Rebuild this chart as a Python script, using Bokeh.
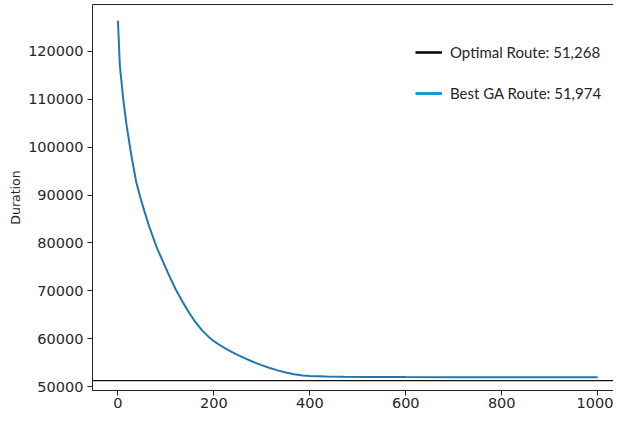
from bokeh.plotting import figure
from bokeh.models import (Span, Legend, LegendItem, LinearAxis, FixedTicker,
                          ColumnDataSource, Range1d)
from bokeh.embed import file_html
from bokeh.resources import INLINE

# ---- data ----
generation = [0, 4, 11, 18, 28, 38, 47, 55, 65, 80, 93, 105, 120, 135, 148,
              160, 175, 190, 200, 215, 230, 245, 264, 280, 298, 315, 333, 350,
              367, 385, 400, 435, 470, 520, 600, 700, 800, 900, 1000]
best_duration = [126400, 117100, 110100, 104600, 98300, 92800, 89400, 86700,
                 83500, 79300, 76300, 73600, 70400, 67700, 65500, 63700, 61800,
                 60300, 59500, 58500, 57650, 56850, 55950, 55250, 54550, 53950,
                 53400, 52950, 52600, 52350, 52220, 52100, 52050, 52020, 52000,
                 51990, 51980, 51975, 51974]
optimal_duration = 51268
legend_labels = ["Optimal Route: 51,268", "Best GA Route: 51,974"]
x_ticks = [0, 200, 400, 600, 800, 1000]
y_ticks = [50000, 60000, 70000, 80000, 90000, 100000, 110000, 120000]

X_MIN, X_MAX = -53, 1033
Y_MIN, Y_MAX = 49200, 129800
NAN = float("nan")

p = figure(width=613, height=410, output_backend="svg", toolbar_location=None,
           x_range=Range1d(X_MIN, X_MAX), y_range=Range1d(Y_MIN, Y_MAX),
           min_border_left=92, min_border_right=0, min_border_top=4,
           min_border_bottom=10)
p.grid.visible = False
p.outline_line_color = None
p.background_fill_color = "white"

src = ColumnDataSource(dict(x=generation, y=best_duration))
p.line("x", "y", source=src, line_color="#1f77b4", line_width=2)

p.add_layout(Span(location=optimal_duration, dimension="width",
                  line_color="#111111", line_width=1.2))

tick_font = "DejaVu Sans"
for ax in (p.xaxis[0], p.yaxis[0]):
    ax.axis_line_color = "#222222"
    ax.axis_line_width = 1
    ax.major_tick_line_color = "#222222"
    ax.major_tick_in = 0
    ax.major_tick_out = 5
    ax.minor_tick_line_color = None
    ax.major_label_text_font = tick_font
    ax.major_label_text_font_size = "14.5px"
    ax.major_label_text_color = "#262626"
    ax.major_label_standoff = 4

p.xaxis[0].major_label_standoff = 2
p.xaxis[0].ticker = FixedTicker(ticks=x_ticks)
p.yaxis[0].ticker = FixedTicker(ticks=y_ticks)
p.yaxis[0].formatter.use_scientific = False
p.yaxis[0].axis_label = "Duration"
p.yaxis[0].axis_label_text_font = tick_font
p.yaxis[0].axis_label_text_font_size = "12.5px"
p.yaxis[0].axis_label_text_font_style = "normal"
p.yaxis[0].axis_label_text_color = "#262626"
p.yaxis[0].axis_label_standoff = 2

top = LinearAxis(ticker=FixedTicker(ticks=[]), major_label_text_font_size="0px",
                 major_tick_out=0, major_tick_in=0, minor_tick_out=0,
                 minor_tick_in=0, axis_line_color="#222222")
p.add_layout(top, "above")

# legend (dummy renderers carry the legend glyph styles)
r_opt = p.line([NAN], [NAN], line_color="black", line_width=2.5)
r_ga = p.line([NAN], [NAN], line_color="#1b9ad8", line_width=3)
legend = Legend(items=[LegendItem(label=legend_labels[0], renderers=[r_opt]),
                       LegendItem(label=legend_labels[1], renderers=[r_ga])],
                location=(323, 287), padding=0, margin=0, spacing=21,
                glyph_width=27, glyph_height=20, label_height=20,
                label_standoff=8, border_line_color=None,
                background_fill_alpha=0,
                label_text_font="Lato", label_text_font_size="15px",
                label_text_color="#262626")
p.add_layout(legend, "center")

open("out.html", "w").write(file_html(p, INLINE))
